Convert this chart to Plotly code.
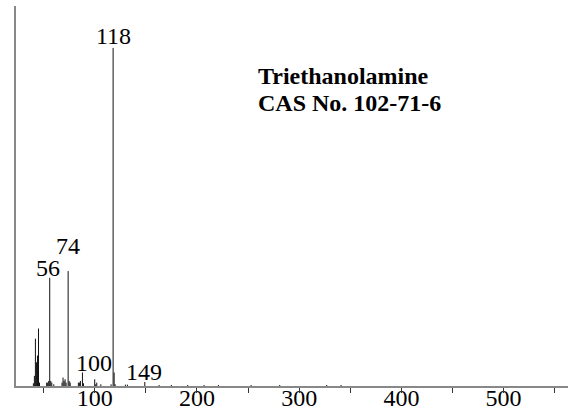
import plotly.graph_objects as go

# Mass spectrum of triethanolamine (EI), relative intensity in %
mz = [40, 41, 42, 43, 44, 45, 46, 53, 54, 55, 56, 57, 58, 60, 68, 69, 70, 71,
      72, 74, 75, 76, 84, 85, 86, 88, 89, 100, 101, 102, 106, 116, 118, 119,
      120, 130, 132, 149, 163, 175, 191, 207, 221, 253, 281, 327, 341]
intensity = [0.8, 3, 14, 7, 9, 17, 1, 1, 1, 1.5, 32, 1.5, 1, 0.5, 1, 2.5, 1.5,
             2, 1, 34, 1.5, 1, 1, 1, 1.5, 4, 0.8, 2, 0.5, 1, 0.5, 0.5, 100, 4,
             0.5, 0.4, 0.4, 1.2, 0.3, 0.3, 0.3, 0.3, 0.3, 0.3, 0.3, 0.3, 0.3]

# Labelled peaks: m/z and (xshift, yshift) offsets of their labels in px
labelled = [118, 56, 74, 100, 149]
label_shift = {118: (0, -3), 56: (-2, -5), 74: (0, 10), 100: (-1, 1), 149: (-1, -5)}

title_lines = ["Triethanolamine", "CAS No. 102-71-6"]
x_ticks = [100, 200, 300, 400, 500]
x_tick_marks = [50, 100, 150, 200, 250, 300, 350, 400, 450, 500, 550]
x_range = [23, 563]

# Stick spectrum: each peak is a vertical segment from 0 to its intensity
xs, ys = [], []
for m, i in zip(mz, intensity):
    xs += [m, m, None]
    ys += [0, i, None]

fig = go.Figure(go.Scatter(x=xs, y=ys, mode="lines",
                           line=dict(color="#111111", width=1),
                           hoverinfo="skip", showlegend=False))
# empty trace that puts the baseline / tick-mark axis on the page
fig.add_trace(go.Scatter(x=[None], y=[None], xaxis="x2", mode="lines",
                         hoverinfo="skip", showlegend=False))

serif = "Liberation Serif"
peak_int = dict(zip(mz, intensity))
for m in labelled:
    dx, dy = label_shift[m]
    fig.add_annotation(x=m, y=peak_int[m], text=str(m), showarrow=False,
                       xanchor="center", yanchor="bottom", xshift=dx, yshift=dy,
                       font=dict(family=serif, size=24, color="black"))

for k, line in enumerate(title_lines):
    fig.add_annotation(xref="paper", yref="paper", x=0.4348,
                       y=0.7763 - k * 0.0711, text=f"<b>{line}</b>",
                       showarrow=False, xanchor="left", yanchor="bottom",
                       font=dict(family=serif, size=24, color="black"))

fig.update_layout(
    width=568, height=420,
    margin=dict(l=16, r=0, t=6, b=34),
    paper_bgcolor="white", plot_bgcolor="white",
    font=dict(family=serif),
    # labelled axis, lifted slightly so the numbers sit close to the baseline
    xaxis=dict(range=x_range, anchor="free", position=0.0132,
               showgrid=False, zeroline=False, showline=False,
               tickvals=x_ticks, ticks="",
               tickfont=dict(family=serif, size=24, color="black")),
    # baseline with tick marks every 50
    xaxis2=dict(range=x_range, overlaying="x", side="bottom", anchor="y",
                showgrid=False, zeroline=False,
                showline=True, linecolor="#888888", linewidth=2,
                showticklabels=False, tickvals=x_tick_marks,
                ticks="outside", ticklen=5, tickwidth=1, tickcolor="#333333"),
    yaxis=dict(range=[0, 112.4], showgrid=False, zeroline=False,
               showline=True, linecolor="#888888", linewidth=1.5,
               showticklabels=False, ticks=""),
)

fig.write_html("out.html")
